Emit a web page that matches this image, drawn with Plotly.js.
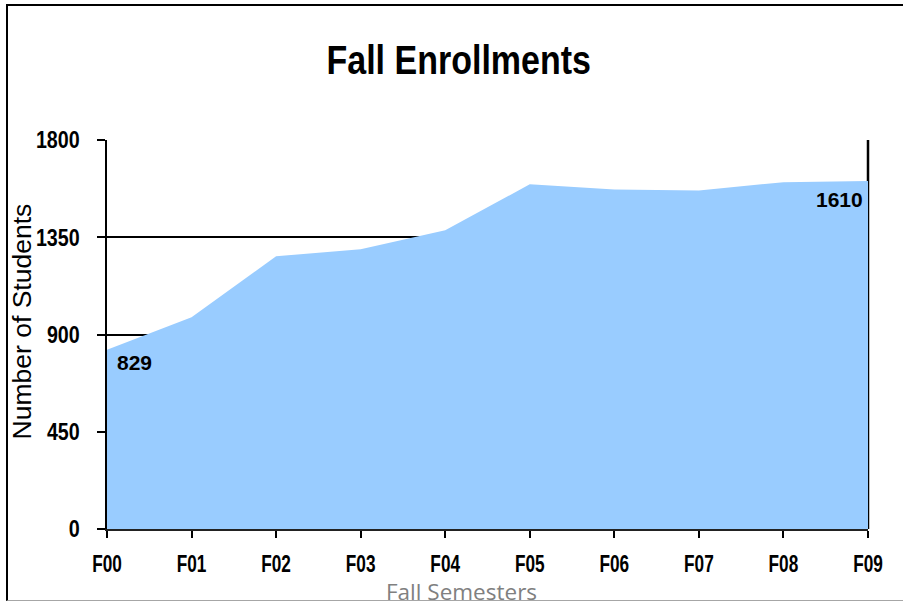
<!DOCTYPE html>
<html>
<head>
<meta charset="utf-8">
<script src="https://cdn.plot.ly/plotly-3.0.1.min.js"></script>
<style>
html,body{margin:0;padding:0;background:#fff;}
#wrap{position:relative;width:903px;height:603px;overflow:hidden;}
#chart{position:absolute;left:0;top:0;width:903px;height:603px;}
#frame{position:absolute;left:6px;top:4px;width:897px;height:597px;border-top:2px solid #000;border-left:2px solid #000;border-bottom:1px solid #a6a6a6;box-sizing:border-box;pointer-events:none;}
</style>
</head>
<body>
<div id="wrap">
<div id="chart"></div>
<div id="frame"></div>
</div>
<script>
const semesters = ["F00","F01","F02","F03","F04","F05","F06","F07","F08","F09"];
const enrollments = [829, 980, 1262, 1295, 1382, 1595, 1571, 1566, 1605, 1610];
const yTicks = [0, 450, 900, 1350, 1800];
const chartTitle = "Fall Enrollments";
const yTitle = "Number of Students";
const xTitle = "Fall Semesters";

const sansBold = "'Liberation Sans', Arial, sans-serif";

const trace = {
  x: semesters,
  y: enrollments,
  type: "scatter",
  mode: "lines",
  fill: "tozeroy",
  fillcolor: "#99CCFF",
  line: {width: 0, color: "#99CCFF"},
  hoverinfo: "x+y"
};

const n = semesters.length;
const layout = {
  width: 903,
  height: 603,
  margin: {l: 107, r: 35, t: 140, b: 74},
  paper_bgcolor: "#ffffff",
  plot_bgcolor: "#ffffff",
  showlegend: false,
  title: {
    text: chartTitle,
    font: {family: sansBold, size: 40, color: "#000", weight: "bold"},
    x: 0.508, xanchor: "center",
    y: 0.9, yanchor: "middle", yref: "container"
  },
  xaxis: {
    type: "category",
    range: [0, n - 1],
    showgrid: false,
    zeroline: false,
    showline: true,
    linecolor: "#222",
    linewidth: 1.5,
    ticks: "outside",
    ticklen: 7,
    tickwidth: 2,
    tickcolor: "#000",
    tickfont: {family: sansBold, size: 23, color: "#000", weight: "bold"},
    ticklabelstandoff: 7,
    fixedrange: true
  },
  yaxis: {
    range: [0, 1800],
    tickvals: yTicks,
    ticktext: yTicks.map(String),
    showgrid: true,
    gridcolor: "#000",
    gridwidth: 2,
    zeroline: false,
    showline: true,
    linecolor: "#000",
    linewidth: 2.5,
    ticks: "outside",
    ticklen: 8,
    tickwidth: 2,
    tickcolor: "#000",
    tickfont: {family: sansBold, size: 24, color: "#000", weight: "bold"},
    ticklabelstandoff: 12,
    fixedrange: true
  },
  shapes: [
    {type: "line", xref: "paper", yref: "paper", x0: 1, x1: 1, y0: 0, y1: 1,
     layer: "below", line: {color: "#000", width: 2.5}}
  ],
  annotations: [
    {x: semesters[0], y: enrollments[0], xref: "x", yref: "y",
     text: String(enrollments[0]), showarrow: false,
     xanchor: "left", yanchor: "top", xshift: 8, yshift: 1,
     font: {family: sansBold, size: 21, color: "#000", weight: "bold"}},
    {x: semesters[n - 1], y: enrollments[n - 1], xref: "x", yref: "y",
     text: String(enrollments[n - 1]), showarrow: false,
     xanchor: "right", yanchor: "top", xshift: -3, yshift: -5,
     font: {family: sansBold, size: 21, color: "#000", weight: "bold"}},
    {x: -0.112, y: 0.533, xref: "paper", yref: "paper",
     text: yTitle, showarrow: false, textangle: -90,
     xanchor: "center", yanchor: "middle",
     font: {family: "'Liberation Sans', Arial, sans-serif", size: 26.5, color: "#000"}},
    {x: (461 - 107) / 761, y: -0.205, xref: "paper", yref: "paper",
     text: xTitle, showarrow: false,
     xanchor: "center", yanchor: "bottom",
     font: {family: "'Open Sans', 'Noto Sans', sans-serif", size: 22.5, color: "#808080"}}
  ]
};

function condense(sel, f) {
  document.querySelectorAll(sel).forEach(function (el) {
    const w = el.getComputedTextLength();
    if (w > 0) {
      el.setAttribute("textLength", (w * f).toFixed(1));
      el.setAttribute("lengthAdjust", "spacingAndGlyphs");
    }
  });
}

Plotly.newPlot("chart", [trace], layout, {displayModeBar: false, staticPlot: true}).then(function () {
  condense("#chart .gtitle", 0.85);
  condense("#chart .xtick text", 0.75);
  condense("#chart .ytick text", 0.82);
});
</script>
</body>
</html>
